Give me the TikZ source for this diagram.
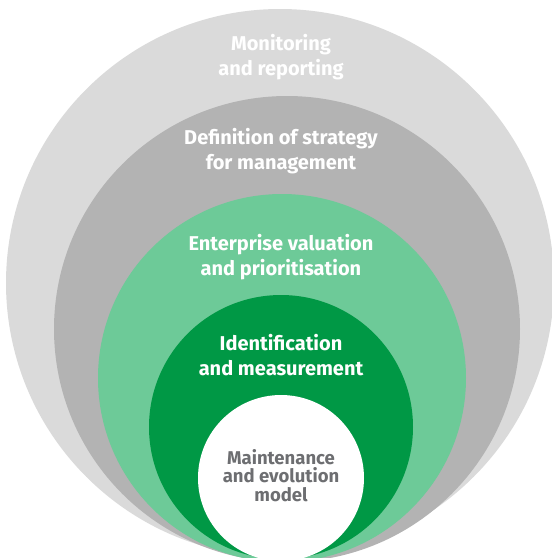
\documentclass[tikz,border=0pt]{standalone}
\usepackage{fontspec}
\setmainfont{Fira Sans}
\usetikzlibrary{positioning}
\definecolor{palegray}{HTML}{DADADA}
\definecolor{midgray}{HTML}{B3B3B3}
\definecolor{palegreen}{HTML}{6DCA98}
\definecolor{deepgreen}{HTML}{009845}
\definecolor{inktext}{HTML}{6D6E71}

\begin{document}
\begin{tikzpicture}[x=1pt,y=-1pt,
  ring/.style = {circle, inner sep=0pt, minimum size=#1},
  ringtext/.style = {align=center, text=white, font=\bfseries\fontsize{20}{24.5}\selectfont}
  ]
\useasboundingbox (0,0) rectangle (552,558);
\clip (0,0) rectangle (552,558);
\node[ring=548pt, fill=palegray] (monitoring) at (280,283) {};
\node[ring=466pt, fill=midgray] (strategy) at (287,329) {};
\node[ring=368pt, fill=palegreen] (valuation) at (282,378) {};
\node[ring=264pt, fill=deepgreen] (identification) at (281,427) {};
\node[ring=166pt, fill=white] (maintenance) at (281,478) {};

\node[ringtext] (monitoringtext) at (281,57) {Monitoring\\and reporting};
\node[ringtext] (strategytext) at (281,151) {Definition of strategy\\for management};
\node[ringtext] (valuationtext) at (281,257) {Enterprise valuation\\and prioritisation};
\node[ringtext] (identificationtext) at (281,355) {Identification\\and measurement};
\node[ringtext, text=inktext, font=\bfseries\fontsize{18.5}{18.5}\selectfont] (maintenancetext) at (281,475.5) {Maintenance\\and evolution\\model};
\end{tikzpicture}
\end{document}
